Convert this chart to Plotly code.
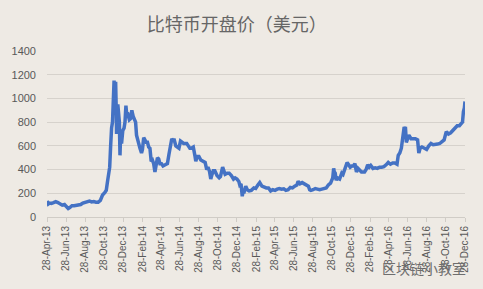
import plotly.graph_objects as go

dates = [
"2013-04-28","2013-05-02","2013-05-06","2013-05-12","2013-05-19","2013-05-26","2013-06-02","2013-06-09","2013-06-16","2013-06-23","2013-06-30","2013-07-05","2013-07-10","2013-07-17","2013-07-24","2013-07-31","2013-08-07","2013-08-14","2013-08-21","2013-08-28","2013-09-04","2013-09-11","2013-09-18","2013-09-25","2013-10-02","2013-10-09","2013-10-16","2013-10-23","2013-10-30","2013-11-04","2013-11-08","2013-11-12","2013-11-15","2013-11-18","2013-11-19","2013-11-21","2013-11-24","2013-11-27","2013-11-29","2013-12-02","2013-12-04","2013-12-06","2013-12-07","2013-12-09","2013-12-11","2013-12-14","2013-12-16","2013-12-18","2013-12-20","2013-12-23","2013-12-27","2013-12-31",
"2014-01-03","2014-01-06","2014-01-09","2014-01-13","2014-01-17","2014-01-21","2014-01-25","2014-01-29","2014-02-02","2014-02-06","2014-02-09","2014-02-12","2014-02-16","2014-02-20","2014-02-25","2014-02-28","2014-03-04","2014-03-08","2014-03-12","2014-03-16","2014-03-20","2014-03-24","2014-03-28","2014-04-01","2014-04-05","2014-04-09","2014-04-11","2014-04-14","2014-04-17","2014-04-21","2014-04-25","2014-04-30","2014-05-05","2014-05-12","2014-05-19","2014-05-24","2014-05-28","2014-06-02","2014-06-05","2014-06-10","2014-06-15","2014-06-20","2014-06-25","2014-06-30","2014-07-05","2014-07-10","2014-07-15","2014-07-20","2014-07-25","2014-07-30","2014-08-04","2014-08-10","2014-08-15","2014-08-18","2014-08-22","2014-08-28","2014-09-03","2014-09-10","2014-09-17","2014-09-22","2014-09-26","2014-10-01","2014-10-05","2014-10-08","2014-10-13","2014-10-18","2014-10-25","2014-11-01","2014-11-05","2014-11-12","2014-11-15","2014-11-20","2014-11-27","2014-12-03","2014-12-10","2014-12-17","2014-12-22","2014-12-28",
"2015-01-03","2015-01-06","2015-01-10","2015-01-13","2015-01-14","2015-01-16","2015-01-20","2015-01-25","2015-01-30","2015-02-05","2015-02-12","2015-02-20","2015-02-26","2015-03-05","2015-03-11","2015-03-18","2015-03-25","2015-04-01","2015-04-08","2015-04-15","2015-04-22","2015-04-29","2015-05-06","2015-05-13","2015-05-20","2015-05-27","2015-06-03","2015-06-10","2015-06-17","2015-06-24","2015-07-01","2015-07-08","2015-07-12","2015-07-18","2015-07-25","2015-08-01","2015-08-08","2015-08-14","2015-08-18","2015-08-22","2015-08-29","2015-09-05","2015-09-12","2015-09-19","2015-09-26","2015-10-03","2015-10-10","2015-10-17","2015-10-24","2015-10-31","2015-11-03","2015-11-05","2015-11-08","2015-11-11","2015-11-15","2015-11-22","2015-11-29","2015-12-03","2015-12-08","2015-12-12","2015-12-16","2015-12-21","2015-12-26","2015-12-31",
"2016-01-05","2016-01-10","2016-01-15","2016-01-20","2016-01-25","2016-01-31","2016-02-05","2016-02-10","2016-02-15","2016-02-20","2016-02-25","2016-03-01","2016-03-08","2016-03-15","2016-03-22","2016-03-29","2016-04-05","2016-04-12","2016-04-19","2016-04-26","2016-05-03","2016-05-10","2016-05-17","2016-05-24","2016-05-28","2016-06-02","2016-06-07","2016-06-12","2016-06-16","2016-06-18","2016-06-20","2016-06-23","2016-06-27","2016-07-01","2016-07-08","2016-07-15","2016-07-22","2016-07-29","2016-08-02","2016-08-06","2016-08-12","2016-08-20","2016-08-27","2016-09-03","2016-09-10","2016-09-17","2016-09-24","2016-10-01","2016-10-08","2016-10-15","2016-10-22","2016-10-29","2016-11-05","2016-11-12","2016-11-19","2016-11-26","2016-12-03","2016-12-10","2016-12-17","2016-12-20","2016-12-23","2016-12-26","2016-12-28"]

prices = [
135,110,118,115,122,130,122,108,100,105,90,72,80,95,95,100,105,105,118,125,128,135,127,130,125,125,140,185,205,225,300,350,420,600,700,750,800,950,1150,1000,1140,900,700,850,950,870,800,520,690,620,730,750,
800,940,850,860,820,830,900,850,830,800,690,650,620,580,540,570,670,640,630,630,590,580,470,480,450,380,420,440,500,490,450,450,430,440,450,530,590,660,650,650,600,590,580,640,630,620,620,620,600,580,580,590,520,470,510,510,480,470,460,400,420,385,320,350,390,390,350,330,340,420,400,360,370,370,350,320,330,320,
300,270,280,200,175,210,210,260,230,220,225,245,240,270,290,260,250,245,245,220,230,225,235,240,235,238,225,230,250,245,260,270,300,280,290,280,270,260,230,225,230,240,235,230,235,240,245,270,285,330,410,380,370,310,330,320,370,360,400,440,460,440,420,430,
430,450,380,410,400,380,380,380,400,440,420,435,410,415,410,420,420,425,440,460,445,455,455,445,520,540,580,690,760,740,760,630,660,690,660,660,660,650,540,580,590,580,570,600,620,610,610,615,620,640,650,720,700,710,730,740,770,770,790,800,890,920,975]

tick_vals = ["2013-04-28","2013-06-28","2013-08-28","2013-10-28","2013-12-28","2014-02-28","2014-04-28","2014-06-28","2014-08-28","2014-10-28","2014-12-28","2015-02-28","2015-04-28","2015-06-28","2015-08-28","2015-10-28","2015-12-28","2016-02-28","2016-04-28","2016-06-28","2016-08-28","2016-10-28","2016-12-28"]
tick_text = ["28-Apr-13","28-Jun-13","28-Aug-13","28-Oct-13","28-Dec-13","28-Feb-14","28-Apr-14","28-Jun-14","28-Aug-14","28-Oct-14","28-Dec-14","28-Feb-15","28-Apr-15","28-Jun-15","28-Aug-15","28-Oct-15","28-Dec-15","28-Feb-16","28-Apr-16","28-Jun-16","28-Aug-16","28-Oct-16","28-Dec-16"]
y_ticks = [0, 200, 400, 600, 800, 1000, 1200, 1400]

bg = "#EEEAE4"
fig = go.Figure()
fig.add_trace(go.Scatter(x=dates, y=prices, mode="lines",
                         line=dict(color="#4472C4", width=3.5), showlegend=False))

fig.update_layout(
    width=483, height=289,
    paper_bgcolor=bg, plot_bgcolor=bg,
    margin=dict(l=43, r=18, t=51, b=72),
    title=dict(text="比特币开盘价（美元）", x=0.49, xanchor="center", y=0.915, yanchor="middle",
               font=dict(family="Noto Sans CJK SC", size=18, color="#666666")),
    font=dict(family="Liberation Sans, Arial", size=11, color="#595959"),
    xaxis=dict(type="date", range=["2013-04-28", "2016-12-28"],
               tickvals=tick_vals, ticktext=tick_text, tickangle=-90,
               showgrid=False, showline=True, linecolor="#D0CCC6", linewidth=1,
               ticks="outside", ticklen=4, tickcolor="#D0CCC6",
               tickfont=dict(size=10, color="#595959")),
    yaxis=dict(range=[0, 1400], tickvals=y_ticks, showgrid=True, gridcolor="#D6D2CC",
               gridwidth=1, zeroline=False, showline=False, ticks="",
               ticklabelstandoff=10, tickfont=dict(size=11, color="#595959")),
)

fig.add_annotation(text="区块链小教室", xref="paper", yref="paper", x=1.007, y=-0.305,
                   xanchor="right", yanchor="middle", showarrow=False,
                   font=dict(family="Noto Sans CJK SC", size=14, color="#6E6E6E"))

fig.write_html("out.html")
